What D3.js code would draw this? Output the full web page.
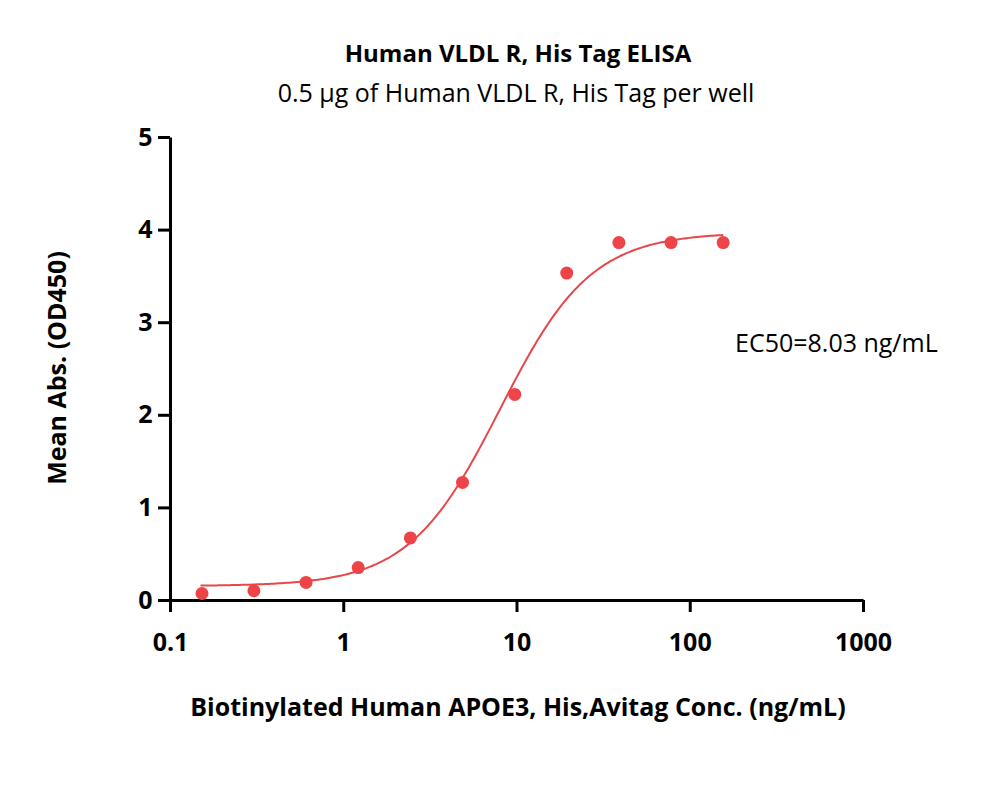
<!DOCTYPE html>
<html><head><meta charset="utf-8">
<script src="https://cdn.jsdelivr.net/npm/d3@7"></script>
<style>body{margin:0;background:#fff}text{font-family:"Open Sans",sans-serif}</style>
</head><body><div id="chart"></div>
<script>
var concs = [0.153, 0.305, 0.61, 1.22, 2.44, 4.88, 9.77, 19.5, 39, 78, 156];
var absVals = [0.07, 0.10, 0.19, 0.35, 0.67, 1.27, 2.22, 3.53, 3.86, 3.86, 3.86];
var xTicks = [0.1, 1, 10, 100, 1000];
var yTicks = [0, 1, 2, 3, 4, 5];
// 4PL fit parameters (bottom, top, EC50, hill)
var fit = {bottom: 0.15, top: 3.97, ec50: 8.03, hill: 1.65};

var width = 1000, height = 796;
var svg = d3.select("#chart").append("svg").attr("width", width).attr("height", height);
var x = d3.scaleLog().domain([0.1, 1000]).range([170, 863]);
var y = d3.scaleLinear().domain([0, 5]).range([600, 137]);

var xAxis = svg.append("g").attr("transform", "translate(0,600)")
    .call(d3.axisBottom(x).tickValues(xTicks).tickFormat(d => d).tickSize(12).tickSizeOuter(0));
var yAxis = svg.append("g").attr("transform", "translate(170,0)")
    .call(d3.axisLeft(y).tickValues(yTicks).tickFormat(d3.format("d")).tickSize(12).tickSizeOuter(0));
[xAxis, yAxis].forEach(function (g) {
    g.selectAll("path, line").attr("stroke", "#000").attr("stroke-width", 3);
    g.selectAll("text").attr("font-size", 25).attr("font-weight", "bold").attr("fill", "#000");
});
xAxis.selectAll("text").attr("dy", "1.45em");
yAxis.selectAll("text").attr("dx", "-0.1em");

// fitted curve
var curveX = d3.range(0, 201).map(i => Math.pow(10, Math.log10(0.15) + i / 200 * (Math.log10(156) - Math.log10(0.15))));
var f = c => fit.bottom + (fit.top - fit.bottom) / (1 + Math.pow(fit.ec50 / c, fit.hill));
svg.append("path").datum(curveX)
    .attr("d", d3.line().x(d => x(d)).y(d => y(f(d))))
    .attr("fill", "none").attr("stroke", "#e8474a").attr("stroke-width", 2);

svg.selectAll(".pt").data(concs).enter().append("circle")
    .attr("cx", d => x(d)).attr("cy", (d, i) => y(absVals[i]))
    .attr("r", 6.5).attr("fill", "#ee4347");

svg.append("text").attr("x", 518).attr("y", 62).attr("text-anchor", "middle")
    .attr("font-size", 24).attr("font-weight", "bold").text("Human VLDL R, His Tag ELISA");
svg.append("text").attr("x", 516).attr("y", 102).attr("text-anchor", "middle")
    .attr("font-size", 25).text("0.5 μg of Human VLDL R, His Tag per well");
svg.append("text").attr("x", 518).attr("y", 716).attr("text-anchor", "middle")
    .attr("font-size", 25).attr("font-weight", "bold").text("Biotinylated Human APOE3, His,Avitag Conc. (ng/mL)");
svg.append("text").attr("transform", "translate(66,368) rotate(-90)").attr("text-anchor", "middle")
    .attr("font-size", 25).attr("font-weight", "bold").text("Mean Abs. (OD450)");
svg.append("text").attr("x", 735).attr("y", 352).attr("font-size", 25).text("EC50=8.03 ng/mL");
</script></body></html>
